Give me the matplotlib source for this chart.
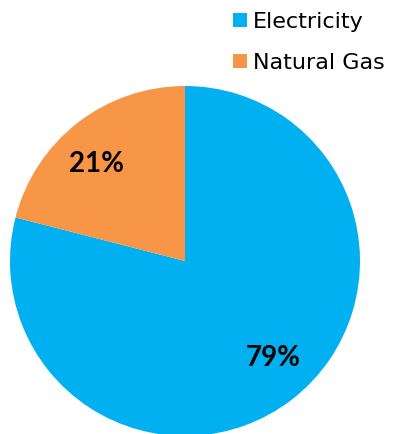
import numpy as np
import matplotlib.pyplot as plt

labels = ["Electricity", "Natural Gas"]
shares = [79, 21]
colors = ["#00B0F0", "#F79646"]

W, H = 401, 434
fig = plt.figure(figsize=(W / 100, H / 100), dpi=100)

# pie: radius 175 px, centred at (185, 261) from top-left
r = 175
cx, cy = 185, 261
ax = fig.add_axes([(cx - r) / W, (H - cy - r) / H, 2 * r / W, 2 * r / H])
wedges, texts, autotexts = ax.pie(
    shares, colors=colors, startangle=90, counterclock=False,
    autopct="%d%%", pctdistance=0.75, radius=1,
    wedgeprops=dict(linewidth=0),
    textprops=dict(fontsize=20, fontweight="bold", family="Lato", color="black"),
)
# labels sit a little counter-clockwise of the wedge middle in the original
rot = np.deg2rad(4.5)
for t in autotexts:
    x, y = t.get_position()
    t.set_position((x * np.cos(rot) - y * np.sin(rot), x * np.sin(rot) + y * np.cos(rot)))

ax.set_xlim(-1, 1)
ax.set_ylim(-1, 1)
ax.set_aspect("equal")
ax.axis("off")

fig.legend(wedges, labels, loc="upper left", bbox_to_anchor=(233 / W, 1 - 12 / H),
           frameon=False, borderpad=0, borderaxespad=0,
           handlelength=0.62, handleheight=0.62, handletextpad=0.27,
           labelspacing=0.95, prop=dict(family="DejaVu Sans", size=16))

fig.savefig("out.png", dpi=100)
